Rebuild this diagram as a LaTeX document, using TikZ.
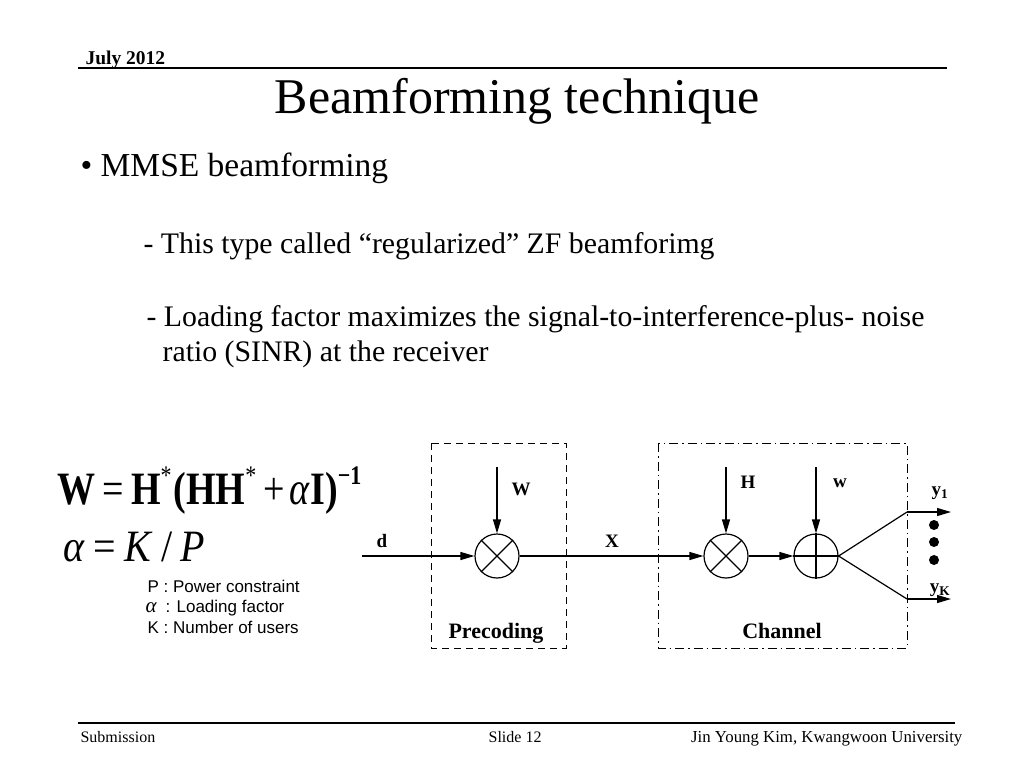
\documentclass[tikz,border=0pt]{standalone}
\usepackage{fontspec}
\setmainfont{Liberation Serif}
\newfontfamily\arialf{Liberation Sans}
\usetikzlibrary{arrows.meta}
\newcommand{\supst}[1]{\raisebox{0.42em}{\fontsize{22}{24}\selectfont #1}}
\begin{document}
\begin{tikzpicture}[x=1pt,y=-1pt,
  line width=1.2pt,
  arr/.style={-{Triangle[length=14pt,width=8pt]}},
  op/.style={circle,draw,minimum size=44pt,inner sep=0pt},
  lbl/.style={font=\fontsize{19}{21}\selectfont\bfseries,inner sep=0pt},
  dashbox/.style={draw,line width=1pt,dash pattern=on 7pt off 5pt},
  dotbox/.style={draw,line width=1pt,dash pattern=on 9pt off 4pt on 1.5pt off 4pt},
  txt/.style={inner sep=0pt,anchor=base west}]
\useasboundingbox (0,0) rectangle (1024,768);
\fill[white] (0,0) rectangle (1024,768);
% header
\node[txt,font=\fontsize{19.5}{21}\selectfont\bfseries] (date) at (85,64) {July 2012};
\draw[line width=1.3pt] (78,68) -- (947,68);
\node[inner sep=0pt,anchor=base,font=\fontsize{50}{55}\selectfont] (title) at (517,113) {Beamforming technique};
\node[txt,font=\fontsize{33.5}{36}\selectfont] (b1) at (80,176) {• MMSE beamforming};
\node[txt,font=\fontsize{29.8}{33}\selectfont] (b2) at (143,253) {- This type called “regularized” ZF beamforimg};
\node[txt,font=\fontsize{29.8}{33}\selectfont] (b3) at (146,326) {- Loading factor maximizes the signal-to-interference-plus- noise};
\node[txt,font=\fontsize{29.8}{33}\selectfont] (b4) at (162,361) {ratio (SINR) at the receiver};
% formulas
\node[txt,font=\fontsize{38}{42}\selectfont] (f1) at (57,504) {\scalebox{1}[1.22]{\textbf{W}\hspace{7pt}=\hspace{7pt}\textbf{H}\supst{*}\hspace{2pt}\textbf{(HH}\supst{*}\hspace{7pt}+\hspace{5pt}\textit{α}\textbf{I)}\supst{\textbf{−1}}}};
\node[txt,font=\fontsize{40}{44}\selectfont] (f2) at (63,561) {\scalebox{1}[1.12]{\textit{α}\hspace{8pt}=\hspace{9pt}\textit{K}\hspace{8pt}/\hspace{8pt}\textit{P}}};
\node[txt,font=\arialf\fontsize{17}{19}\selectfont] (l1) at (147,592) {P : Power constraint};
\node[txt,font=\arialf\fontsize{17}{19}\selectfont] (l2) at (145,612) {{\rmfamily\itshape\fontsize{21}{22}\selectfont α}\hspace{9pt}: Loading factor};
\node[txt,font=\arialf\fontsize{17}{19}\selectfont] (l3) at (147,633) {K : Number of users};
% boxes
\draw[dashbox] (431,443) rectangle (566,648);
\draw[dotbox] (658,443) rectangle (907,648);
\node[lbl,anchor=base,font=\fontsize{22}{24}\selectfont\bfseries] (pre) at (496,638) {Precoding};
\node[lbl,anchor=base,font=\fontsize{22}{24}\selectfont\bfseries] (cha) at (782,638) {Channel};
% operators
\node[op] (m1) at (497,556) {};
\node[op] (m2) at (726,556) {};
\node[op] (s1) at (816,556) {};
\draw (m1.north east) -- (m1.south west) (m1.north west) -- (m1.south east);
\draw (m2.north east) -- (m2.south west) (m2.north west) -- (m2.south east);
\draw (s1.north) -- (s1.south) (s1.west) -- (s1.east);
\coordinate (din) at (362,556);
\coordinate (wt) at (497,467);
\coordinate (ht) at (726,467);
\coordinate (nt) at (816,467);
\coordinate (c1) at (907,512);
\coordinate (cK) at (907,599);
\coordinate (e1) at (951,512);
\coordinate (eK) at (951,599);
\draw[arr] (din) -- (m1);
\draw[arr] (wt) -- (m1);
\draw[arr] (m1) -- (m2);
\draw[arr] (ht) -- (m2);
\draw[arr] (m2) -- (s1);
\draw[arr] (nt) -- (s1);
\draw (s1.east) -- (c1);
\draw (s1.east) -- (cK);
\draw[arr] (c1) -- (e1);
\draw[arr] (cK) -- (eK);
\fill (934,525) circle (5);
\fill (934,542) circle (5);
\fill (934,560) circle (5);
% labels
\node[lbl] (ld) at (382,541) {d};
\node[lbl] (lx) at (612,541) {X};
\node[lbl] (lw) at (521,489) {W};
\node[lbl] (lh) at (748,482) {H};
\node[lbl] (ln) at (840,483) {w};
\node[lbl] (ly1) at (940,493) {y\textsubscript{1}};
\node[lbl] (lyk) at (940,590) {y\textsubscript{K}};
% footer
\draw[line width=1.3pt] (78,723) -- (955,723);
\node[txt,font=\fontsize{16}{18}\selectfont] (s) at (80,742) {Submission};
\node[txt,font=\fontsize{16}{18}\selectfont] (sl) at (488,742) {Slide 12};
\node[inner sep=0pt,anchor=base east,font=\fontsize{16.8}{18}\selectfont] (au) at (963,742) {Jin Young Kim, Kwangwoon University};
\end{tikzpicture}
\end{document}
